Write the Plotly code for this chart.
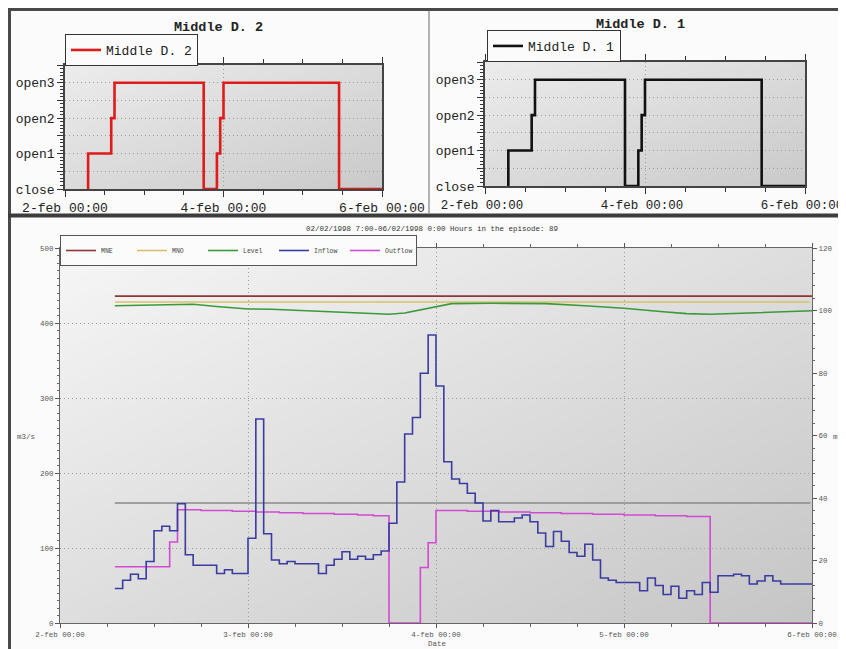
import base64, struct, zlib
import pandas as pd
import plotly.graph_objects as go

# page body has an 8px margin: the figure is drawn at page offset (8, 8)
OFF = 8
FW, FH = 838, 641
BASE = pd.Timestamp("1998-02-02 00:00")

# ---------------- data ----------------
# gate positions (hour offsets from 2-feb 00:00) – identical for both gates
gate_hours = [7, 7, 14, 15, 42, 46, 47, 48, 83, 96]
gate_d2 = ["close", "open1", "open2", "open3", "close", "open1", "open2", "open3", "close", "close"]
gate_d1 = ["close", "open1", "open2", "open3", "close", "open1", "open2", "open3", "close", "close"]
gate_levels = ["close", "open1", "open2", "open3"]

# hourly series, hours 7 .. 95 (89 hours in the episode)
flow_hours = list(range(7, 96))
inflow = [46, 57, 65, 59, 82, 123, 129, 123, 159, 91, 77, 77, 77, 66, 71, 66, 66,
          113, 272, 119, 84, 79, 82, 79, 79, 79, 66, 77, 85, 95, 85, 89, 85, 91, 96,
          133, 188, 252, 274, 333, 384, 316, 215, 192, 186, 173, 160, 136, 150, 135,
          135, 140, 144, 135, 120, 102, 122, 109, 94, 89, 105, 84, 60, 57, 54, 54, 54,
          43, 60, 50, 38, 49, 33, 43, 38, 54, 41, 63, 63, 65, 63, 52, 56, 63, 56, 52,
          52, 52, 52]
outflow = [75, 75, 75, 75, 75, 75, 75, 108,
           151, 151, 151, 150, 150, 150, 150, 149, 149, 149, 148, 148, 148, 147, 147,
           147, 146, 146, 146, 146, 145, 145, 145, 144, 144, 143, 143,
           0, 0, 0, 0, 74, 107,
           150, 150, 150, 150, 149, 149, 149, 149, 148, 148, 148, 148, 147, 147, 147,
           147, 146, 146, 146, 146, 145, 145, 145, 145, 144, 144, 144, 144, 143, 143,
           143, 143, 142, 142, 142,
           0, 0, 0, 0, 0, 0, 0, 0, 0, 0, 0, 0, 0]
end_hour = 96

level_hours = [7, 12, 14, 17, 20, 24, 27, 31, 35, 39, 42, 44, 47, 49, 50, 55, 62, 67,
               72, 77, 80, 83, 88, 92, 96]
level_m = [101.5, 101.8, 102.0, 102.0, 101.3, 100.5, 100.4, 100.0, 99.6, 99.0, 98.8,
           99.2, 100.6, 101.6, 102.2, 102.3, 102.2, 101.5, 100.7, 99.6, 99.0, 98.8,
           99.3, 99.6, 99.9]
mne_m = 104.6
mno_m = 102.7
ref_flow = 160  # grey reference line, m3/s

day_ticks = ["1998-02-02", "1998-02-03", "1998-02-04", "1998-02-05", "1998-02-06"]
day_labels = ["2-feb 00:00", "3-feb 00:00", "4-feb 00:00", "5-feb 00:00", "6-feb 00:00"]
top_ticks = ["1998-02-02", "1998-02-04", "1998-02-06"]
top_labels = ["2-feb 00:00", "4-feb 00:00", "6-feb 00:00"]
episode_title = "02/02/1998 7:00-06/02/1998 0:00 Hours in the episode: 89"


def t(h):
    return BASE + pd.Timedelta(hours=h)


def px_x(p):
    return (p - OFF) / FW


def px_y(p):
    return 1 - (p - OFF) / FH


def gradient_uri(c0, c1, w=64, h=64):
    rows = []
    for j in range(h):
        row = bytearray([0])
        for i in range(w):
            f = (i / (w - 1) + j / (h - 1)) / 2
            v = int(round(c0 + (c1 - c0) * f))
            row += bytes([v, v, v])
        rows.append(bytes(row))
    raw = b"".join(rows)

    def chunk(tag, data):
        return (struct.pack(">I", len(data)) + tag + data +
                struct.pack(">I", zlib.crc32(tag + data) & 0xFFFFFFFF))

    png = (b"\x89PNG\r\n\x1a\n" +
           chunk(b"IHDR", struct.pack(">IIBBBBB", w, h, 8, 2, 0, 0, 0)) +
           chunk(b"IDAT", zlib.compress(raw)) + chunk(b"IEND", b""))
    return "data:image/png;base64," + base64.b64encode(png).decode()


MONO = "Liberation Mono, Courier New, monospace"
gate_val = {g: i for i, g in enumerate(gate_levels)}
gate_x = [t(h) for h in gate_hours]
flow_x = [t(h) for h in flow_hours] + [t(end_hour)]
inflow_y = inflow + [inflow[-1]]
outflow_y = outflow + [outflow[-1]]

# page-pixel geometry of the three plot areas
TL = dict(x0=65, x1=382, y0=65, y1=189)
TR = dict(x0=485, x1=805, y0=62, y1=186)
BT = dict(x0=60, x1=812, y0=248, y1=623)

fig = go.Figure()

# ---- top-left: Middle D. 2
fig.add_trace(go.Scatter(x=gate_x, y=[gate_val[g] for g in gate_d2], mode="lines",
                         line=dict(color="#e01b1b", width=2.6, shape="hv"),
                         name="Middle D. 2", xaxis="x", yaxis="y", legend="legend"))
# ---- top-right: Middle D. 1
fig.add_trace(go.Scatter(x=gate_x, y=[gate_val[g] for g in gate_d1], mode="lines",
                         line=dict(color="#111111", width=2.6, shape="hv"),
                         name="Middle D. 1", xaxis="x2", yaxis="y2", legend="legend2"))

# ---- bottom chart
fig.add_trace(go.Scatter(x=[t(flow_hours[0]), t(end_hour - 0.2)], y=[ref_flow, ref_flow],
                         mode="lines", line=dict(color="#8a8a8a", width=1.5),
                         showlegend=False, xaxis="x3", yaxis="y3", hoverinfo="skip"))
fig.add_trace(go.Scatter(x=flow_x, y=outflow_y, mode="lines", name="Outflow",
                         line=dict(color="#d24ad2", width=1.6, shape="hv"),
                         xaxis="x3", yaxis="y3", legend="legend3", legendrank=5))
fig.add_trace(go.Scatter(x=flow_x, y=inflow_y, mode="lines", name="Inflow",
                         line=dict(color="#3b3ba0", width=1.6, shape="hv"),
                         xaxis="x3", yaxis="y3", legend="legend3", legendrank=4))
fig.add_trace(go.Scatter(x=[t(flow_hours[0]), t(end_hour)], y=[mne_m, mne_m], mode="lines",
                         name="MNE", line=dict(color="#8e3535", width=1.6),
                         xaxis="x3", yaxis="y4", legend="legend3", legendrank=1))
fig.add_trace(go.Scatter(x=[t(flow_hours[0]), t(end_hour - 0.3)], y=[mno_m, mno_m], mode="lines",
                         name="MNO", line=dict(color="#d8c068", width=1.6),
                         xaxis="x3", yaxis="y4", legend="legend3", legendrank=2))
fig.add_trace(go.Scatter(x=[t(h) for h in level_hours], y=level_m, mode="lines",
                         name="Level", line=dict(color="#3a9a3a", width=1.6),
                         xaxis="x3", yaxis="y4", legend="legend3", legendrank=3))

GRID = dict(showgrid=True, gridcolor="#9c9c9c", griddash="1px,3px", gridwidth=1)


def top_x(dom, anchor, size=13, shift=0):
    return dict(domain=dom, anchor=anchor, type="date",
                range=["1998-02-02", "1998-02-06"], tickmode="array",
                tickvals=top_ticks, ticktext=top_labels, ticks="outside", ticklen=6,
                tickcolor="#333", showline=True, linecolor="#444", linewidth=1.5,
                mirror="ticks", tickfont=dict(family=MONO, size=size, color="#222"),
                ticklabeloverflow="allow", ticklabelshift=shift,
                minor=dict(dtick=12 * 3600 * 1000, ticks="outside", ticklen=4,
                           tickcolor="#333", showgrid=False),
                automargin=False, **GRID)


def top_y(dom, anchor):
    return dict(domain=dom, anchor=anchor, range=[0, 3.5], tickmode="array",
                tickvals=[0, 0.5, 1, 1.5, 2, 2.5, 3, 3.5],
                ticktext=["close", "", "open1", "", "open2", "", "open3", ""],
                ticks="outside", ticklen=6, tickcolor="#333", showline=True,
                linecolor="#444", linewidth=1.5, mirror=True,
                tickfont=dict(family=MONO, size=13, color="#222"),
                minor=dict(tickmode="linear", tick0=0, dtick=0.1, ticks="outside",
                           ticklen=3, tickcolor="#333", showgrid=False),
                zeroline=False, automargin=False, **GRID)


def dom_x(g):
    return [px_x(g["x0"]), px_x(g["x1"])]


def dom_y(g):
    return [px_y(g["y1"]), px_y(g["y0"])]


def img(g, c0, c1):
    return dict(source=gradient_uri(c0, c1), xref="paper", yref="paper",
                x=px_x(g["x0"]), y=px_y(g["y0"]), sizex=px_x(g["x1"]) - px_x(g["x0"]),
                sizey=px_y(g["y0"]) - px_y(g["y1"]), sizing="stretch", layer="below",
                xanchor="left", yanchor="top")


def note(text, x, y, font):
    return dict(text=text, x=px_x(x), y=px_y(y), xref="paper", yref="paper",
                xanchor="center", yanchor="middle", showarrow=False, font=font)


def pline(x0, y0, x1, y1, color, width):
    return dict(type="line", xref="paper", yref="paper", x0=px_x(x0), x1=px_x(x1),
                y0=px_y(y0), y1=px_y(y1), line=dict(color=color, width=width))


SMALL = dict(family=MONO, size=7.5, color="#555")
TITLE = dict(family=MONO, size=13.5, color="#222")

fig.update_layout(
    width=FW, height=FH, margin=dict(l=0, r=0, t=0, b=0),
    paper_bgcolor="#fbfbfb", plot_bgcolor="rgba(0,0,0,0)",
    xaxis=top_x(dom_x(TL), "y"), yaxis=top_y(dom_y(TL), "x"),
    xaxis2=top_x(dom_x(TR), "y2", size=12.5, shift=-3), yaxis2=top_y(dom_y(TR), "x2"),
    xaxis3=dict(domain=dom_x(BT), anchor="y3", type="date",
                range=["1998-02-02", "1998-02-06"], tickmode="array",
                tickvals=day_ticks, ticktext=day_labels, ticks="outside", ticklen=4,
                tickcolor="#555", showline=True, linecolor="#666", linewidth=1,
                mirror="ticks", tickfont=SMALL, automargin=False,
                ticklabeloverflow="allow",
                minor=dict(dtick=6 * 3600 * 1000, ticks="outside", ticklen=3,
                           tickcolor="#666", showgrid=False), **GRID),
    yaxis3=dict(domain=dom_y(BT), anchor="x3", range=[0, 500], dtick=100,
                ticks="outside", ticklen=4, tickcolor="#555", showline=True,
                linecolor="#666", linewidth=1, tickfont=SMALL, zeroline=False,
                minor=dict(dtick=10, ticks="outside", ticklen=2, tickcolor="#666",
                           showgrid=False), automargin=False, **GRID),
    yaxis4=dict(overlaying="y3", side="right", anchor="x3", range=[0, 120], dtick=20,
                ticks="outside", ticklen=4, tickcolor="#555", showline=True,
                linecolor="#666", linewidth=1, tickfont=SMALL, zeroline=False,
                showgrid=False, automargin=False,
                minor=dict(dtick=4, ticks="outside", ticklen=2, tickcolor="#666")),
    legend=dict(x=px_x(65), y=px_y(50), xanchor="left", yanchor="middle",
                bgcolor="#fbfbfb", bordercolor="#333", borderwidth=1,
                font=dict(family=MONO, size=13, color="#222"), itemwidth=30),
    legend2=dict(x=px_x(487), y=px_y(46), xanchor="left", yanchor="middle",
                 bgcolor="#fbfbfb", bordercolor="#333", borderwidth=1,
                 font=dict(family=MONO, size=13, color="#222"), itemwidth=30),
    legend3=dict(x=px_x(60), y=px_y(235), xanchor="left", yanchor="top",
                 orientation="h", bgcolor="#fbfbfb", bordercolor="#555", borderwidth=1,
                 font=dict(family=MONO, size=6.5, color="#444"), itemwidth=30,
                 entrywidth=26, entrywidthmode="pixels", tracegroupgap=0),
    showlegend=True,
    images=[img(TL, 236, 202), img(TR, 236, 202), img(BT, 246, 198)],
    annotations=[
        note("<b>Middle D. 2</b>", 218, 27, TITLE),
        note("<b>Middle D. 1</b>", 640, 24, TITLE),
        note(episode_title, 432, 229, dict(family=MONO, size=7.5, color="#333")),
        note("m3/s", 26, 437, SMALL),
        note("m.", 837, 437, SMALL),
        note("Date", 437, 644, SMALL),
    ],
    shapes=[
        pline(8, 9.5, 846, 9.5, "#4a4a4a", 3),
        pline(9.5, 8, 9.5, 649, "#4a4a4a", 3),
        pline(8, 215.5, 846, 215.5, "#3c3c3c", 4),
        pline(429, 11, 429, 213, "#9a9a9a", 1.5),
    ],
)

fig.write_html("out.html")
